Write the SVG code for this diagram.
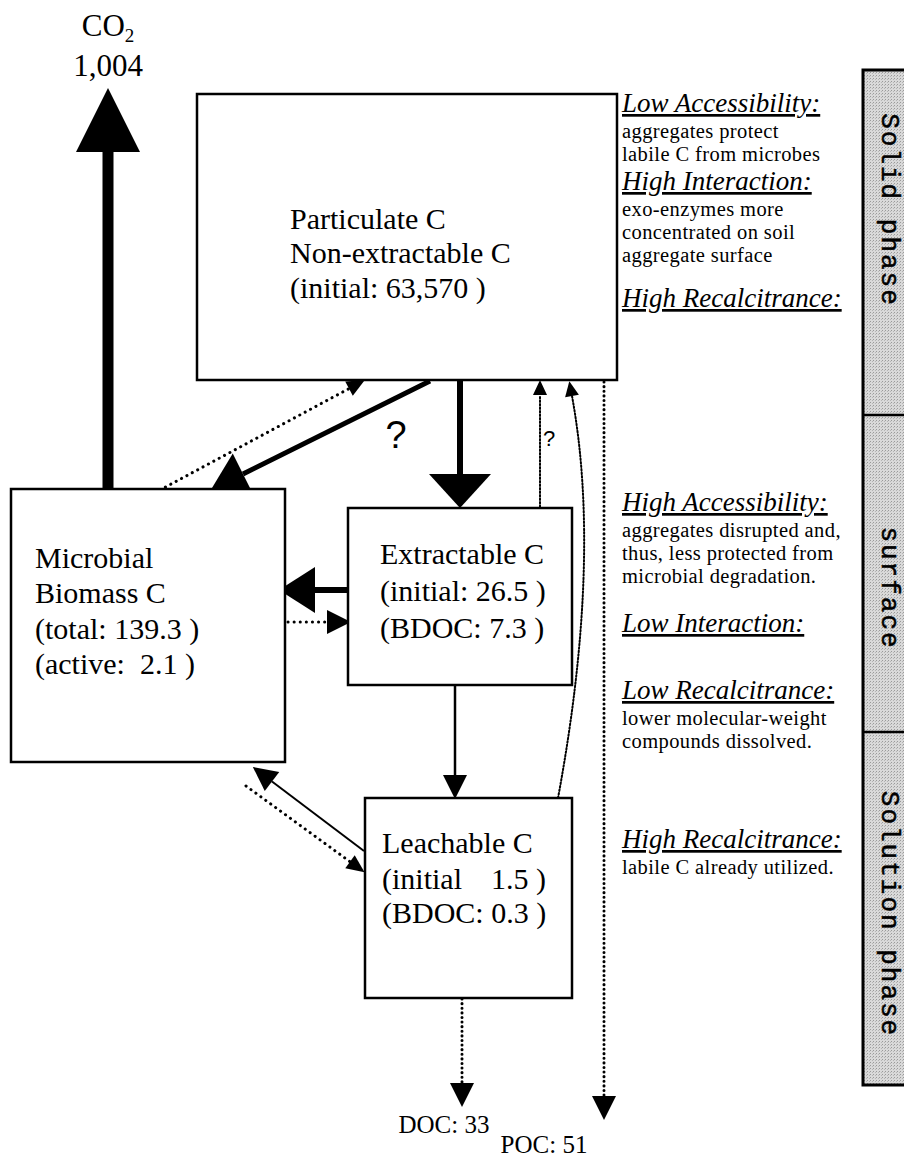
<svg xmlns="http://www.w3.org/2000/svg" width="904" height="1160" viewBox="0 0 904 1160">
<style>
.bx{fill:#fff;stroke:#000;stroke-width:2.5}
.t{font-family:"Liberation Serif","Times New Roman",serif;fill:#000}
.box{font-size:30px}
.hd{font-size:27px;font-style:italic;text-decoration:underline}
.bd{font-size:20.5px;letter-spacing:0.4px}
.side{font-family:"Liberation Mono","Courier New",monospace;font-size:26px;letter-spacing:2px;fill:#000;stroke:#000;stroke-width:0.5}
.q{font-family:"Liberation Sans",Arial,sans-serif;fill:#000}
.solid{fill:none;stroke:#000;stroke-linecap:butt}
.dot{fill:none;stroke:#000;stroke-linecap:round}
.dotT{stroke-width:3;stroke-dasharray:0.1 6}
.dotF{stroke-width:2;stroke-dasharray:1.5 2}
.dotV{stroke-width:3;stroke-dasharray:0.1 4.5}
</style>
<defs>
<pattern id="stip" width="3" height="3" patternUnits="userSpaceOnUse">
<rect width="3" height="3" fill="#d9d9d9"/>
<rect x="0" y="0" width="1" height="1" fill="#9a9a9a"/>
<rect x="2" y="1" width="1" height="1" fill="#b5b5b5"/>
</pattern>
<marker id="mCO2" markerUnits="userSpaceOnUse" markerWidth="64" markerHeight="64" refX="0" refY="32" orient="auto" overflow="visible"><path d="M0,0 L64,32 L0,64 z" fill="#000"/></marker>
<marker id="mXL" markerUnits="userSpaceOnUse" markerWidth="34" markerHeight="62" refX="0" refY="31" orient="auto" overflow="visible"><path d="M0,0 L34,31 L0,62 z" fill="#000"/></marker>
<marker id="mL" markerUnits="userSpaceOnUse" markerWidth="36" markerHeight="46" refX="0" refY="23" orient="auto" overflow="visible"><path d="M0,0 L36,23 L0,46 z" fill="#000"/></marker>
<marker id="mM" markerUnits="userSpaceOnUse" markerWidth="24" markerHeight="24" refX="0" refY="12" orient="auto" overflow="visible"><path d="M0,0 L24,12 L0,24 z" fill="#000"/></marker>
<marker id="mS" markerUnits="userSpaceOnUse" markerWidth="18" markerHeight="16" refX="0" refY="8" orient="auto" overflow="visible"><path d="M0,0 L18,8 L0,16 z" fill="#000"/></marker>
<marker id="mXS" markerUnits="userSpaceOnUse" markerWidth="15" markerHeight="14" refX="0" refY="7" orient="auto" overflow="visible"><path d="M0,0 L15,7 L0,14 z" fill="#000"/></marker>
</defs>
<rect width="904" height="1160" fill="#fff"/>

<g id="sidebar">
<rect x="863" y="70" width="45" height="1015" fill="url(#stip)" stroke="#000" stroke-width="3"/>
<line x1="863" y1="415" x2="904" y2="415" stroke="#000" stroke-width="2.5"/>
<line x1="863" y1="732" x2="904" y2="732" stroke="#000" stroke-width="2.5"/>
<text class="side" x="889" y="210" text-anchor="middle" dominant-baseline="central" transform="rotate(90 889 210)">Solid phase</text>
<text class="side" x="889" y="588" text-anchor="middle" dominant-baseline="central" transform="rotate(90 889 588)">surface</text>
<text class="side" x="889" y="914" text-anchor="middle" dominant-baseline="central" transform="rotate(90 889 914)">Solution phase</text>
</g>

<g id="connectors">
<line class="solid" x1="108" y1="488" x2="108" y2="152" stroke-width="11" marker-end="url(#mCO2)"/>
<line class="solid" x1="460" y1="381" x2="460" y2="474" stroke-width="6" marker-end="url(#mXL)"/>
<line class="solid" x1="430" y1="381" x2="243" y2="474" stroke-width="5" marker-end="url(#mL)"/>
<line class="dot dotT" x1="160" y1="490" x2="349" y2="388.6" marker-end="url(#mS)"/>
<line class="solid" x1="348" y1="590" x2="315" y2="590" stroke-width="6" marker-end="url(#mL)"/>
<line class="dot dotT" x1="288" y1="622" x2="327" y2="622" marker-end="url(#mM)"/>
<line class="solid" x1="455" y1="685" x2="455" y2="775" stroke-width="2.5" marker-end="url(#mM)"/>
<line class="solid" x1="364" y1="851" x2="272" y2="781.5" stroke-width="2" marker-end="url(#mM)"/>
<line class="dot dotT" x1="246" y1="786" x2="350" y2="861.7" marker-end="url(#mS)"/>
<line class="dot dotF" x1="540" y1="507" x2="540" y2="395" marker-end="url(#mXS)"/>
<path class="dot dotF" d="M558,798 Q602,560 572,396" marker-end="url(#mXS)"/>
<line class="dot dotV" x1="462" y1="999" x2="462" y2="1083" marker-end="url(#mM)"/>
<line class="dot dotV" x1="604" y1="382" x2="604" y2="1096" marker-end="url(#mM)"/>
<text class="q" x="396" y="448" font-size="38" text-anchor="middle">?</text>
<text class="q" x="549" y="446" font-size="22" text-anchor="middle">?</text>
</g>

<g id="co2">
<text class="t" x="108" y="36" font-size="31" text-anchor="middle">CO<tspan font-size="19" dy="6">2</tspan></text>
<text class="t" x="108" y="76" font-size="31" text-anchor="middle">1,004</text>
</g>

<g id="particulate">
<rect class="bx" x="197" y="94" width="420" height="286"/>
<text class="t box" x="290" y="229">Particulate C</text>
<text class="t box" x="290" y="263">Non-extractable C</text>
<text class="t box" x="290" y="298">(initial: 63,570 )</text>
</g>

<g id="microbial">
<rect class="bx" x="11" y="489" width="274" height="273"/>
<text class="t box" x="35" y="568">Microbial</text>
<text class="t box" x="35" y="603">Biomass C</text>
<text class="t box" x="35" y="639" xml:space="preserve">(total: 139.3 )</text>
<text class="t box" x="35" y="674" xml:space="preserve">(active:  2.1 )</text>
</g>

<g id="extractable">
<rect class="bx" x="348" y="508" width="224" height="177"/>
<text class="t box" x="380" y="564">Extractable C</text>
<text class="t box" x="380" y="601">(initial: 26.5 )</text>
<text class="t box" x="380" y="638">(BDOC: 7.3 )</text>
</g>

<g id="leachable">
<rect class="bx" x="365" y="798" width="207" height="200"/>
<text class="t box" x="382" y="853">Leachable C</text>
<text class="t box" x="382" y="889">(initial<tspan x="491">1.5 )</tspan></text>
<text class="t box" x="382" y="923">(BDOC: 0.3 )</text>
</g>

<g id="outputs">
<text class="t" x="444" y="1133" font-size="25" text-anchor="middle">DOC: 33</text>
<text class="t" x="544" y="1153" font-size="25" text-anchor="middle">POC: 51</text>
</g>

<g id="notes">
<text class="t hd" x="622" y="112">Low Accessibility:</text>
<text class="t bd" x="622" y="138">aggregates protect</text>
<text class="t bd" x="622" y="161">labile C from microbes</text>
<text class="t hd" x="622" y="190">High Interaction:</text>
<text class="t bd" x="622" y="216">exo-enzymes more</text>
<text class="t bd" x="622" y="239">concentrated on soil</text>
<text class="t bd" x="622" y="262">aggregate surface</text>
<text class="t hd" x="622" y="307">High Recalcitrance:</text>
<text class="t hd" x="622" y="511">High Accessibility:</text>
<text class="t bd" x="622" y="537">aggregates disrupted and,</text>
<text class="t bd" x="622" y="560">thus, less protected from</text>
<text class="t bd" x="622" y="583">microbial degradation.</text>
<text class="t hd" x="622" y="632">Low Interaction:</text>
<text class="t hd" x="622" y="699">Low Recalcitrance:</text>
<text class="t bd" x="622" y="725">lower molecular-weight</text>
<text class="t bd" x="622" y="748">compounds dissolved.</text>
<text class="t hd" x="622" y="848">High Recalcitrance:</text>
<text class="t bd" x="622" y="874">labile C already utilized.</text>
</g>
</svg>
